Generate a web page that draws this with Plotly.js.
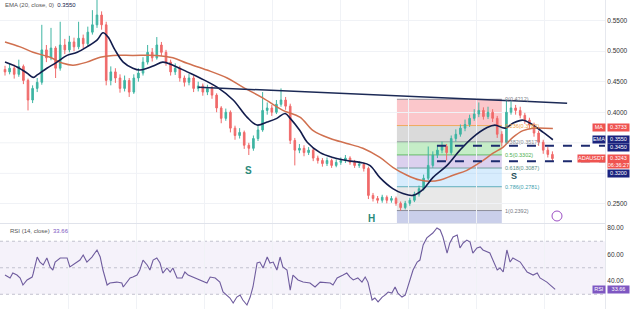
<!DOCTYPE html>
<html>
<head>
<meta charset="utf-8">
<script src="https://cdn.plot.ly/plotly-3.0.1.min.js"></script>
<style>html,body{margin:0;padding:0;background:#fff;}#chart{width:640px;height:309px;}</style>
</head>
<body>
<div id="chart"></div>
<script>
// ---- Price candles (ADAUSDT) ----
const openP = [0.470,0.466,0.472,0.462,0.475,0.452,0.420,0.439,0.449,0.502,
0.489,0.505,0.472,0.510,0.502,0.515,0.507,0.521,0.512,0.531,
0.543,0.559,0.543,0.452,0.466,0.456,0.439,0.452,0.433,0.456,
0.464,0.482,0.498,0.489,0.510,0.498,0.482,0.466,0.472,0.456,
0.449,0.456,0.439,0.443,0.433,0.439,0.428,0.407,0.390,0.400,
0.374,0.362,0.367,0.346,0.341,0.357,0.371,0.403,0.407,0.400,
0.413,0.420,0.410,0.354,0.338,0.341,0.334,0.338,0.325,0.321,
0.316,0.321,0.313,0.318,0.321,0.325,0.318,0.313,0.315,0.308,
0.264,0.259,0.256,0.261,0.256,0.259,0.251,0.244,0.251,0.256,
0.266,0.275,0.292,0.313,0.330,0.338,0.344,0.334,0.357,0.364,
0.374,0.380,0.390,0.397,0.403,0.393,0.400,0.390,0.364,0.351,
0.400,0.407,0.403,0.395,0.387,0.379,0.366,0.351,0.338,0.331];
const closeP = [0.466,0.472,0.462,0.475,0.452,0.420,0.439,0.449,0.502,0.489,
0.505,0.472,0.510,0.502,0.515,0.507,0.521,0.512,0.531,0.543,
0.559,0.543,0.452,0.466,0.456,0.439,0.452,0.433,0.456,0.464,
0.482,0.498,0.489,0.510,0.498,0.482,0.466,0.472,0.456,0.449,
0.456,0.439,0.443,0.433,0.439,0.428,0.407,0.390,0.400,0.374,
0.362,0.367,0.346,0.341,0.357,0.371,0.403,0.407,0.400,0.413,
0.420,0.410,0.354,0.338,0.341,0.334,0.338,0.325,0.321,0.316,
0.321,0.313,0.318,0.321,0.325,0.318,0.313,0.315,0.308,0.264,
0.259,0.256,0.261,0.256,0.259,0.251,0.244,0.251,0.256,0.266,
0.275,0.292,0.313,0.330,0.338,0.344,0.334,0.357,0.364,0.374,
0.380,0.390,0.397,0.403,0.393,0.400,0.390,0.364,0.351,0.400,
0.407,0.403,0.395,0.387,0.379,0.366,0.351,0.338,0.331,0.3243];
const highP = [0.476,0.480,0.478,0.486,0.478,0.455,0.444,0.456,0.543,0.510,
0.538,0.508,0.548,0.520,0.525,0.522,0.548,0.527,0.540,0.567,
0.584,0.565,0.548,0.475,0.472,0.462,0.460,0.456,0.462,0.472,
0.490,0.510,0.505,0.523,0.515,0.502,0.486,0.480,0.476,0.460,
0.463,0.460,0.450,0.447,0.445,0.443,0.431,0.410,0.406,0.403,
0.378,0.374,0.370,0.350,0.362,0.378,0.433,0.416,0.412,0.420,
0.439,0.425,0.414,0.358,0.348,0.346,0.343,0.341,0.329,0.325,
0.326,0.324,0.323,0.326,0.330,0.328,0.322,0.320,0.318,0.311,
0.268,0.263,0.265,0.264,0.263,0.262,0.254,0.255,0.260,0.270,
0.280,0.298,0.344,0.336,0.346,0.352,0.348,0.362,0.372,0.380,
0.388,0.396,0.405,0.416,0.408,0.409,0.405,0.394,0.369,0.421,
0.418,0.412,0.409,0.399,0.391,0.383,0.370,0.355,0.343,0.336];
const lowP = [0.460,0.462,0.455,0.458,0.446,0.403,0.415,0.433,0.445,0.482,
0.485,0.456,0.468,0.495,0.498,0.500,0.503,0.505,0.509,0.527,
0.538,0.535,0.444,0.444,0.448,0.432,0.434,0.425,0.430,0.450,
0.460,0.478,0.483,0.486,0.492,0.476,0.460,0.461,0.450,0.442,
0.444,0.433,0.434,0.427,0.428,0.422,0.400,0.382,0.386,0.367,
0.355,0.357,0.340,0.330,0.337,0.353,0.368,0.396,0.394,0.397,
0.409,0.404,0.348,0.313,0.333,0.328,0.330,0.320,0.316,0.311,
0.312,0.309,0.310,0.314,0.317,0.314,0.309,0.309,0.303,0.258,
0.254,0.251,0.252,0.251,0.252,0.247,0.239,0.241,0.247,0.253,
0.262,0.272,0.289,0.309,0.325,0.333,0.321,0.330,0.352,0.360,
0.369,0.376,0.386,0.392,0.388,0.389,0.384,0.358,0.344,0.348,
0.396,0.396,0.390,0.381,0.373,0.360,0.345,0.332,0.326,0.320];

// ---- EMA(20) line (bar index, price) ----
const emaX = [0,2.6,4.8,6.1,7.0,9.1,10.9,13.5,15.7,17.8,20.0,21.3,22.4,23.9,25.7,27.8,29.3,30.9,32.6,34.3,36.5,39.6,42.4,46.1,49.6,52.6,54.8,57.0,59.1,60.9,62.0,64.1,65.7,68.5,71.3,74.3,77.2,79.3,81.5,84.3,86.5,88.7,90.9,93.0,96.1,98.9,101.7,104.8,106.5,108.7,110.4,112.6,114.8,117.0,119.1];
const emaY = [0.482,0.474,0.464,0.457,0.461,0.472,0.480,0.493,0.498,0.507,0.518,0.530,0.523,0.502,0.482,0.472,0.469,0.472,0.477,0.482,0.477,0.466,0.456,0.441,0.420,0.392,0.379,0.384,0.390,0.398,0.390,0.370,0.351,0.334,0.326,0.321,0.318,0.313,0.293,0.275,0.267,0.264,0.274,0.293,0.313,0.338,0.359,0.375,0.379,0.374,0.382,0.387,0.379,0.367,0.355];

// ---- MA line ----
const maX = [0,3.3,6.1,9.8,12.6,14.8,17.8,20.7,23.5,27.8,33.0,36.5,39.6,43.9,48.3,51.7,56.1,60.4,64.1,67.0,70.7,74.3,77.8,81.5,84.3,87.4,90.2,92.4,94.6,97.4,100.4,103.3,106.1,108.3,110.4,112.6,114.8,119.1];
const maY = [0.515,0.507,0.498,0.490,0.480,0.477,0.482,0.490,0.493,0.493,0.493,0.489,0.480,0.469,0.456,0.441,0.423,0.403,0.392,0.370,0.357,0.349,0.341,0.326,0.310,0.297,0.289,0.287,0.289,0.297,0.305,0.318,0.333,0.343,0.359,0.370,0.374,0.3733];

// ---- RSI(14) ----
const rsiX = [0,1.1,1.7,2.6,3.3,3.9,4.8,5.9,6.1,7.0,7.6,8.3,9.1,9.8,10.4,10.9,12.0,13.5,14.1,14.8,16.3,17.0,17.8,18.9,20.0,20.7,21.3,22.2,22.8,24.3,25.4,25.7,26.5,27.2,27.8,28.7,29.3,30.0,30.9,31.5,32.2,33.0,33.7,34.3,35.2,35.9,36.5,37.4,38.5,39.1,39.8,40.9,42.4,43.9,44.6,45.7,46.7,47.4,48.9,49.6,50.4,51.1,51.7,52.6,53.3,53.9,54.8,55.4,56.1,57.0,57.6,58.3,59.1,59.8,60.4,61.3,62.0,62.6,63.7,64.8,66.3,67.4,68.5,70.7,71.3,72.2,73.5,74.3,75.0,75.7,76.7,77.6,78.3,78.9,79.8,80.4,81.1,82.0,82.6,83.3,84.1,84.8,85.4,86.3,87.0,87.6,88.7,89.6,90.2,90.9,91.7,93.0,93.9,94.6,95.2,96.1,96.7,97.4,98.3,98.9,99.6,100.4,101.1,101.7,102.6,103.3,103.9,105.4,106.1,107.0,107.6,108.3,109.1,109.8,110.4,112.0,113.5,114.8,115.7,116.3,117.8,119.1,119.6];
const rsiY = [44.5,42.3,46.0,44.5,42.3,37.0,40.8,43.0,45.3,58.1,54.3,52.1,57.4,50.6,48.3,54.3,57.4,57.4,50.6,52.1,55.8,59.6,54.3,58.1,63.4,58.1,48.3,37.0,38.5,39.2,38.5,35.5,39.2,42.3,43.0,44.5,48.3,55.8,52.1,48.3,55.8,57.4,53.6,46.0,49.8,46.8,49.8,42.3,42.3,46.8,44.5,43.0,40.8,38.5,43.0,42.3,39.2,31.7,27.2,23.4,27.9,29.4,25.7,21.9,27.9,35.5,53.6,54.3,49.8,58.1,53.6,54.3,48.3,58.1,50.6,48.3,33.2,44.5,40.8,39.2,38.5,35.5,39.2,38.5,37.0,42.3,44.5,46.0,43.0,40.8,42.3,39.2,43.0,39.2,25.7,27.2,24.2,27.9,29.4,31.7,30.9,35.5,30.9,27.9,29.4,35.5,48.3,54.3,55.8,67.2,72.5,76.2,80.0,78.5,73.2,61.1,68.7,73.2,74.7,64.9,68.7,70.9,69.4,61.1,64.9,65.7,63.4,61.1,55.8,48.3,49.8,46.8,63.4,54.3,57.4,54.3,46.8,44.5,46.0,42.3,39.2,35.5,33.66];

// ---- Drawings ----
const fibLevels = [0, 0.236, 0.382, 0.5, 0.618, 0.786, 1];
const fibHigh = 0.4212, fibLow = 0.2392;
const fibStart = 85.2, fibEnd = 108.0;
const trendStart = [42.0, 0.4410], trendEnd = [122.2, 0.4148];
const levelLines = [0.3450, 0.3200];
const levelStart = 93.9;
const priceTicks = [0.25, 0.40, 0.45, 0.50, 0.55];   // 0.30 / 0.35 hidden behind price boxes
const hiddenGrid = [0.30, 0.35];
const rsiTicks = [20, 40, 60, 80];

const PW = 605, H = 309;
const XR = [-1.087, 130.43];
const YR = [0.2180, 0.5836];
const Y2R = [18.9, 83.0];
const bars = openP.map((_, i) => i);

const traces = [
  {type:'candlestick', x:bars, open:openP, high:highP, low:lowP, close:closeP,
   xaxis:'x', yaxis:'y', whiskerwidth:0,
   increasing:{line:{color:'#3fb5a3', width:1}, fillcolor:'#3fb5a3'},
   decreasing:{line:{color:'#f06a6a', width:1}, fillcolor:'#f06a6a'},
   hoverinfo:'skip', showlegend:false},
  {type:'scatter', mode:'lines', x:maX, y:maY, xaxis:'x', yaxis:'y',
   line:{color:'#d0704f', width:1.5, shape:'spline'}, hoverinfo:'skip', showlegend:false},
  {type:'scatter', mode:'lines', x:emaX, y:emaY, xaxis:'x', yaxis:'y',
   line:{color:'#131d4d', width:1.6, shape:'spline'}, hoverinfo:'skip', showlegend:false},
  {type:'scatter', mode:'lines', x:rsiX, y:rsiY, xaxis:'x', yaxis:'y2',
   line:{color:'#6f5c9e', width:1.1}, hoverinfo:'skip', showlegend:false}
];

const shapes = [];
const annotations = [];

hiddenGrid.forEach(v => shapes.push({type:'line', xref:'paper', yref:'y', x0:0, x1:1, y0:v, y1:v,
  line:{color:'#f0f2f6', width:1}, layer:'below'}));

// Fib bands
const bandColors = ['rgba(242,54,69,0.28)','rgba(140,140,140,0.32)','rgba(76,200,80,0.32)',
  'rgba(103,58,183,0.24)','rgba(33,150,243,0.18)','rgba(150,150,150,0.22)'];
const lineColors = ['#787b86','#f0a040','#8a8d96','#4caf50','#5a8f86','#3f9faf','#787b86'];
const fibPrice = l => fibHigh - l * (fibHigh - fibLow);
for (let k = 0; k < fibLevels.length - 1; k++) {
  shapes.push({type:'rect', xref:'x', yref:'y', x0:fibStart, x1:fibEnd,
    y0:fibPrice(fibLevels[k]), y1:fibPrice(fibLevels[k+1]),
    fillcolor:bandColors[k], line:{width:0}, layer:'below'});
}
shapes.push({type:'rect', xref:'x', yref:'y', x0:fibStart, x1:fibEnd, y0:YR[0], y1:fibLow,
  fillcolor:'rgba(63,81,181,0.28)', line:{width:0}, layer:'below'});
fibLevels.forEach((l, k) => {
  const p = fibPrice(l);
  shapes.push({type:'line', xref:'x', yref:'y', x0:fibStart, x1:fibEnd, y0:p, y1:p,
    line:{color:lineColors[k], width:0.8}, layer:'below'});
  annotations.push({xref:'x', yref:'y', x:fibEnd + 0.3, y:p, xanchor:'left', yanchor:'middle',
    text: l + '(' + p.toFixed(4) + ')', showarrow:false,
    font:{size:5.5, color:lineColors[k], family:'Liberation Sans, Arial, sans-serif'}});
});

// RSI band and levels
shapes.push({type:'rect', xref:'paper', yref:'y2', x0:0, x1:1, y0:30, y1:70,
  fillcolor:'rgba(126,87,194,0.08)', line:{width:0}, layer:'below'});
[70, 50, 30].forEach(v => shapes.push({type:'line', xref:'paper', yref:'y2', x0:0, x1:1, y0:v, y1:v,
  line:{color:'#c2c2cf', width:1, dash:'dot'}, layer:'below'}));

// panel separator
shapes.push({type:'line', xref:'paper', yref:'paper', x0:0, x1:1, y0:1-223.5/H, y1:1-223.5/H,
  line:{color:'#e0e3eb', width:1}});

// trend line
shapes.push({type:'line', xref:'x', yref:'y', x0:trendStart[0], y0:trendStart[1], x1:trendEnd[0], y1:trendEnd[1],
  line:{color:'#1c2a56', width:1.5}});

// dashed horizontal levels
levelLines.forEach(v => shapes.push({type:'line', xref:'x', yref:'y', x0:levelStart, x1:XR[1], y0:v, y1:v,
  line:{color:'#1c2a6e', width:2, dash:'dash'}}));

// small circle icon
shapes.push({type:'circle', xref:'paper', yref:'paper', x0:552/PW, x1:562/PW, y0:1-221/H, y1:1-211/H,
  line:{color:'#9c4fc4', width:1}});

// pattern labels
const font = 'Liberation Sans, Arial, sans-serif';
[['S', 53.0, 0.3049, '#2a8a7a', 10], ['H', 79.6, 0.2260, '#2a8a7a', 10], ['S', 110.6, 0.2950, '#1e4f5a', 9]].forEach(a =>
  annotations.push({xref:'x', yref:'y', x:a[1], y:a[2], text:'<b>' + a[0] + '</b>', showarrow:false,
    font:{size:a[4], color:a[3], family:font}}));

// legend texts
annotations.push({xref:'paper', yref:'paper', x:3/PW, y:1-5/H, xanchor:'left', yanchor:'middle',
  text:'EMA (20, close, 0)  <span style="color:#131d4d">0.3550</span>', showarrow:false,
  font:{size:6, color:'#555', family:font}});
annotations.push({xref:'paper', yref:'paper', x:8/PW, y:1-231/H, xanchor:'left', yanchor:'middle',
  text:'RSI (14, close)  <span style="color:#7e57c2">33.66</span>', showarrow:false,
  font:{size:6, color:'#555', family:font}});

// price scale boxes
function box(text, px, py, w, bg, h) {
  annotations.push({xref:'paper', yref:'paper', x:px/PW, y:1-py/H, xanchor:'left', yanchor:'middle',
    text:text, showarrow:false, bgcolor:bg, width:w, height:h || 6.5, borderpad:0, align:'center',
    font:{size:5.5, color:'#fff', family:font}});
}
box('MA', 592, 128, 12, '#ef5350');
box('0.3733', 607, 128, 21, '#ef5350');
box('EMA', 592, 139, 12, '#1a237e');
box('0.3550', 607, 139, 21, '#1a237e');
box('0.3450', 607, 147.5, 21, '#1a237e');
box('ADAUSDT', 577, 158.5, 27, '#ef5350');
box('0.3243<br>06:36:27', 607, 161.5, 21, '#ef5350', 12.5);
box('0.3200', 607, 173.5, 21, '#1a237e');
box('RSI', 592, 289.5, 12, '#7e57c2');
box('33.66', 607, 289.5, 21, '#7e57c2');

const layout = {
  width:640, height:309, margin:{l:0, r:35, t:0, b:0},
  paper_bgcolor:'#fff', plot_bgcolor:'#fff', showlegend:false, dragmode:false,
  boxgap:0.5,
  xaxis:{range:XR, anchor:'y2', showticklabels:false, ticks:'', showgrid:true, gridcolor:'#f0f2f6',
    tick0:13.7, dtick:14.8, zeroline:false, rangeslider:{visible:false}, showline:false},
  yaxis:{domain:[1-223.5/H, 1], range:YR, side:'right', anchor:'x', tickvals:priceTicks, tickformat:'.4f',
    tickfont:{size:6.5, color:'#333', family:font}, showgrid:true, gridcolor:'#f0f2f6', zeroline:false,
    ticks:'', showline:true, linecolor:'#e6e8ee'},
  yaxis2:{domain:[0, 1-224/H], range:Y2R, side:'right', anchor:'x', tickvals:rsiTicks, tickformat:'.2f',
    tickfont:{size:6.5, color:'#333', family:font}, showgrid:false, zeroline:false, ticks:'',
    showline:true, linecolor:'#e6e8ee'},
  shapes:shapes, annotations:annotations
};
Plotly.newPlot('chart', traces, layout, {staticPlot:true, displayModeBar:false});
</script>
</body>
</html>
